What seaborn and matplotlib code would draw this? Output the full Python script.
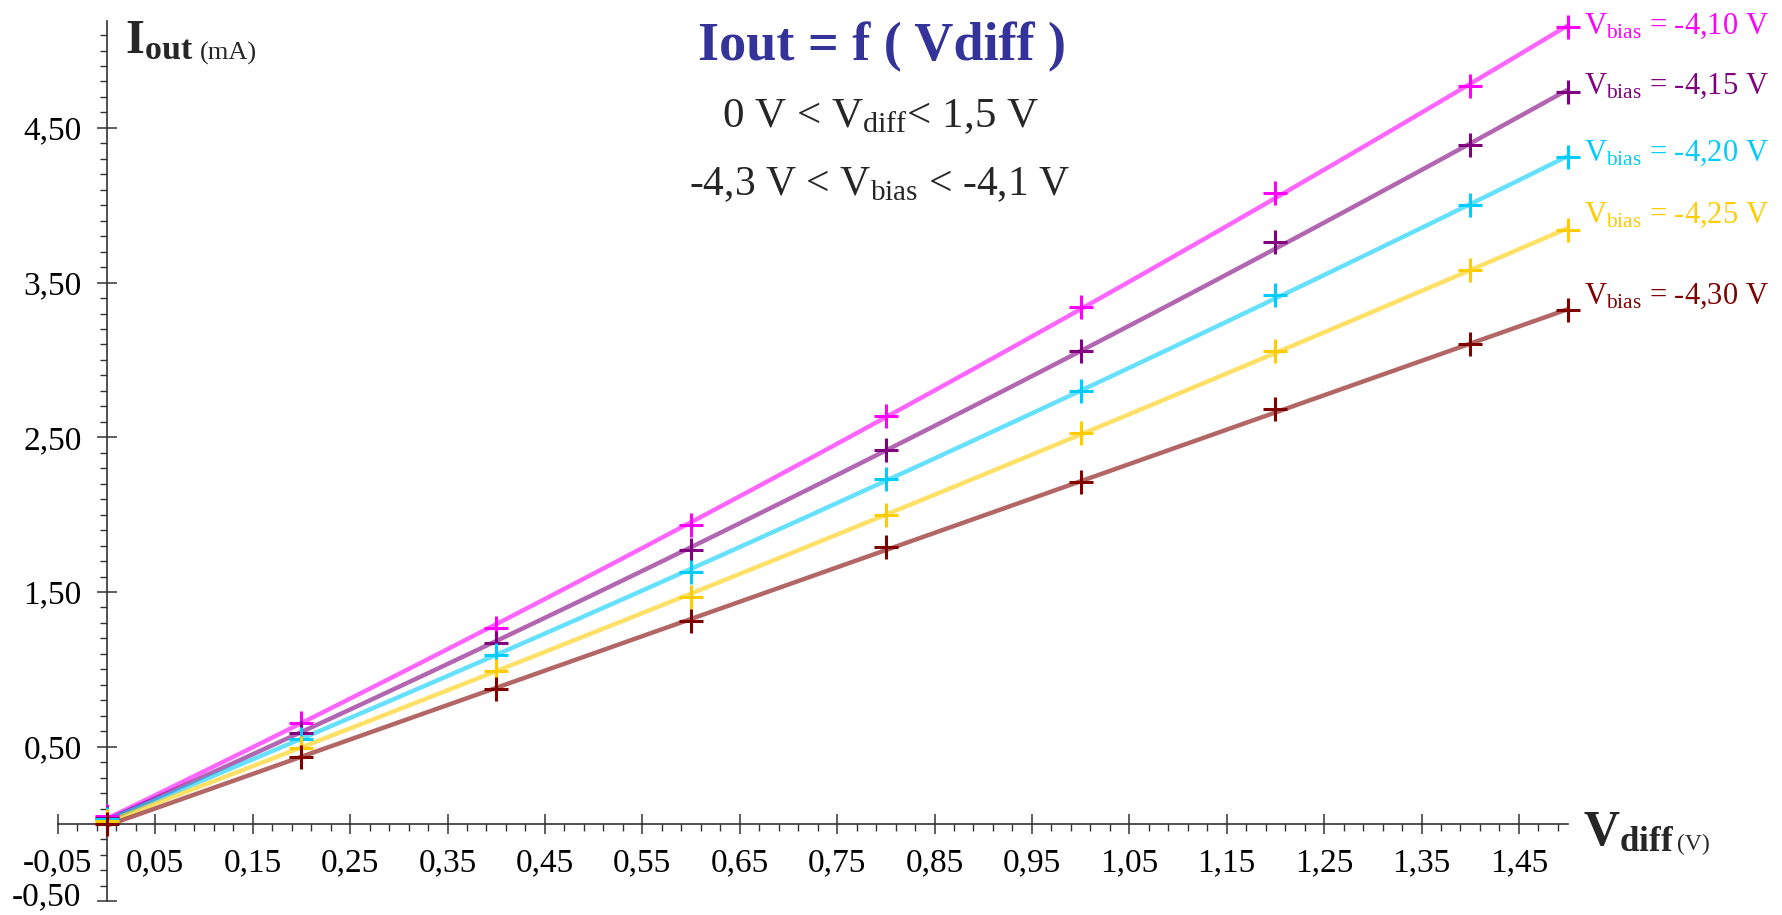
import numpy as np
import pandas as pd
import matplotlib
matplotlib.use("Agg")
import matplotlib.pyplot as plt
import matplotlib.transforms as mtrans
import seaborn as sns
from matplotlib.ticker import MultipleLocator, FuncFormatter

# measured points, Iout (mA) vs Vdiff (V)
vdiff = [0.0, 0.2, 0.4, 0.6, 0.8, 1.0, 1.2, 1.4, 1.5]
i_410 = [0.05, 0.65, 1.27, 1.93, 2.64, 3.34, 4.08, 4.77, 5.15]
i_415 = [0.04, 0.59, 1.17, 1.77, 2.42, 3.06, 3.76, 4.39, 4.73]
i_420 = [0.03, 0.55, 1.09, 1.63, 2.23, 2.80, 3.42, 4.00, 4.31]
i_425 = [0.02, 0.49, 0.99, 1.47, 2.00, 2.53, 3.06, 3.58, 3.84]
i_430 = [0.00, 0.43, 0.87, 1.31, 1.79, 2.21, 2.68, 3.10, 3.32]

bias_labels = ["-4,10", "-4,15", "-4,20", "-4,25", "-4,30"]
series = [i_410, i_415, i_420, i_425, i_430]
colors = ["#FF00FF", "#800080", "#00CCFF", "#FFCC00", "#800000"]
label_dy = [-7, -2, -4, 7, 7]  # pixel nudges for the right-hand labels

sns.set_theme(style="white")
plt.rcParams["font.family"] = ["Liberation Serif", "DejaVu Serif"]
plt.rcParams["mathtext.fontset"] = "custom"
plt.rcParams["mathtext.rm"] = "Liberation Serif"
plt.rcParams["mathtext.it"] = "Liberation Serif:italic"
plt.rcParams["mathtext.bf"] = "Liberation Serif:bold"

W, H = 1782, 915
fig = plt.figure(figsize=(W / 100, H / 100), dpi=100)
ax = fig.add_axes([0.0325, 0.0149, 0.8472, 0.962])

# trend lines (2nd order fit done by seaborn)
for vals, col in zip(series, colors):
    df = pd.DataFrame({"vdiff": vdiff, "iout": vals})
    sns.regplot(data=df, x="vdiff", y="iout", order=2, ci=None, scatter=False,
                truncate=True, ax=ax,
                line_kws=dict(color=col, alpha=0.6, lw=3.2, solid_capstyle="butt"))

# measured points
for vals, col, lab, dy in zip(series, colors, bias_labels, label_dy):
    df = pd.DataFrame({"vdiff": vdiff, "iout": vals})
    sns.scatterplot(data=df, x="vdiff", y="iout", marker="+", s=300, color=col,
                    linewidth=2.2, ax=ax, zorder=5, clip_on=False)
    ax.annotate(rf"V$_{{\rm bias}}$ = {lab} V", xy=(vdiff[-1], vals[-1]),
                xytext=(16, dy), textcoords="offset pixels", color=col,
                fontsize=22, ha="left", va="baseline", annotation_clip=False)

ax.set_xlim(-0.05, 1.5)
ax.set_ylim(-0.5, 5.19)
ax.set_xlabel("")
ax.set_ylabel("")

ax.spines["left"].set_position(("data", 0))
ax.spines["bottom"].set_position(("data", 0))
ax.spines[["top", "right"]].set_visible(False)
for s in ["left", "bottom"]:
    ax.spines[s].set_color("#333333")
    ax.spines[s].set_linewidth(1.2)

comma = FuncFormatter(lambda v, p: f"{v:.2f}".replace(".", ","))
ax.xaxis.set_major_locator(MultipleLocator(0.1, offset=0.05))
ax.xaxis.set_minor_locator(MultipleLocator(0.02, offset=0.01))
ax.yaxis.set_major_locator(MultipleLocator(1.0, offset=0.5))
ax.yaxis.set_minor_locator(MultipleLocator(0.1))
ax.xaxis.set_major_formatter(comma)
ax.yaxis.set_major_formatter(comma)

ax.tick_params(which="major", direction="inout", length=14, width=1.1,
               color="#333333", labelsize=24, labelcolor="black",
               bottom=True, left=True)
ax.tick_params(which="minor", direction="out", length=5, width=1.0,
               color="#333333", bottom=True, left=True)
ax.tick_params(axis="x", which="major", pad=10)
ax.tick_params(axis="y", which="major", pad=11)

# lift the bottom y label a little so it stays inside the picture
fig.canvas.draw()
for tick in ax.yaxis.get_major_ticks():
    if abs(tick.get_loc() + 0.5) < 1e-6:
        tick.label1.set_transform(tick.label1.get_transform()
                                  + mtrans.ScaledTranslation(0, 6 / 72, fig.dpi_scale_trans))


def fx(px):
    return px / W


def fy(py):
    return 1 - py / H


# axis titles
fig.text(fx(125), fy(53), r"$\mathbf{I}_{\mathbf{out}}$", fontsize=35, va="baseline")
fig.text(fx(200), fy(60), "(mA)", fontsize=19, va="baseline")
fig.text(fx(1583), fy(845), r"$\mathbf{V}_{\mathbf{diff}}$", fontsize=36, va="baseline")
fig.text(fx(1677), fy(850), "(V)", fontsize=17, va="baseline")

# chart title
fig.text(fx(882), fy(60), "Iout = f ( Vdiff )", fontsize=39, weight="bold",
         color="#333399", ha="center", va="baseline")
fig.text(fx(880), fy(127), r"0 V < V$_{\rm diff}$< 1,5 V", fontsize=31,
         ha="center", va="baseline")
fig.text(fx(880), fy(195), r"-4,3 V < V$_{\rm bias}$ < -4,1 V", fontsize=30,
         ha="center", va="baseline")

fig.savefig("out.png", dpi=100)
